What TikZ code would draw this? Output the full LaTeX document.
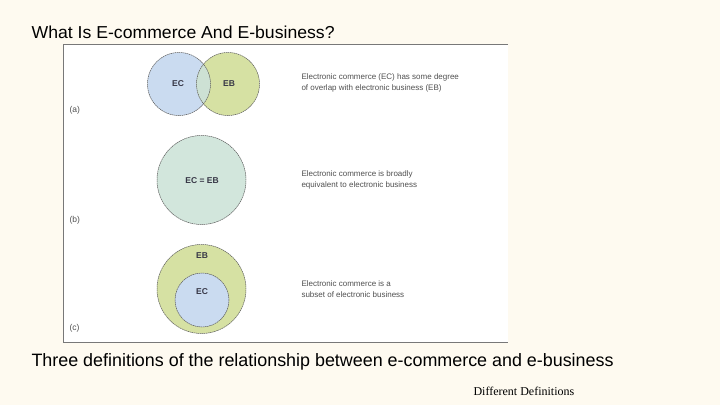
\documentclass[tikz,border=0pt]{standalone}
\usepackage{fontspec}
\setmainfont{Liberation Sans}
\newfontfamily\timesfont{Liberation Serif}
\definecolor{bg}{RGB}{254,250,240}
\definecolor{ecblue}{RGB}{202,219,240}
\definecolor{ebgreen}{RGB}{214,225,163}
\definecolor{overlap}{RGB}{205,225,212}
\definecolor{eqgreen}{RGB}{210,230,220}
\definecolor{txtgray}{RGB}{80,80,80}
\definecolor{lblcol}{RGB}{55,55,70}
\definecolor{framegray}{RGB}{120,120,120}
\tikzset{
  circ/.style={circle, draw=gray!70!black, line width=0.5pt, dash pattern=on 1.5pt off 0.6pt, inner sep=0pt},
  lbl/.style={font=\fontsize{8.5}{9}\selectfont\bfseries, text=lblcol},
  desc/.style={font=\fontsize{8}{11.5}\selectfont, text=txtgray, anchor=west, align=left},
  part/.style={font=\fontsize{8.5}{9}\selectfont, text=txtgray, anchor=west}
}
\begin{document}
\begin{tikzpicture}[x=1pt,y=-1pt]
\useasboundingbox (0,0) rectangle (720,405);
\fill[bg] (0,0) rectangle (720,405);
% panel
\fill[white] (63,44) rectangle (508,342);
\draw[framegray, line width=0.8pt] (508,44) -- (63,44) -- (63,342) -- (508,342);
% (a)
\fill[ecblue] (179,84) circle (31.5);
\fill[ebgreen] (228,84) circle (31.5);
\begin{scope}
  \clip (179,84) circle (31.5);
  \fill[overlap] (228,84) circle (31.5);
\end{scope}
\node[circ, minimum size=63pt] (ec) at (179,84) {};
\node[circ, minimum size=63pt] (eb) at (228,84) {};
\node[lbl] (ectxt) at (178,84) {EC};
\node[lbl] (ebtxt) at (229,84) {EB};
\node[desc] (da) at (298,83) {Electronic commerce (EC) has some degree\\of overlap with electronic business (EB)};
\node[part] (pa) at (66,110) {(a)};
% (b)
\node[circ, fill=eqgreen, minimum size=89pt] (eq) at (201.5,180) {};
\node[lbl] (eqtxt) at (202,181) {EC = EB};
\node[desc] (db) at (298,180) {Electronic commerce is broadly\\equivalent to electronic business};
\node[part] (pb) at (66,220) {(b)};
% (c)
\node[circ, fill=ebgreen, minimum size=89pt] (outer) at (201.5,289) {};
\node[circ, fill=ecblue, minimum size=54pt] (inner) at (202,300) {};
\node[lbl] (ebc) at (202,256) {EB};
\node[lbl] (ecc) at (202,292) {EC};
\node[desc] (dc) at (298,289) {Electronic commerce is a\\subset of electronic business};
\node[part] (pc) at (66,328) {(c)};
% texts
\node[anchor=west, font=\fontsize{17.3}{18}\selectfont, xscale=1.02] (title) at (28,32) {What Is E-commerce And E-business?};
\node[anchor=west, font=\fontsize{17.9}{20}\selectfont] (caption) at (28,362) {Three definitions of the relationship between e-commerce and e-business};
\node[anchor=west, font=\timesfont\fontsize{12}{14}\selectfont] (footer) at (470,391) {Different Definitions};
\end{tikzpicture}
\end{document}
